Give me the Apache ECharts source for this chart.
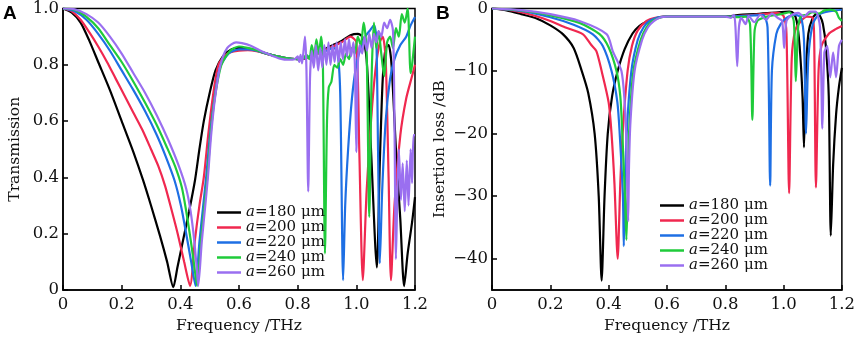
<!DOCTYPE html>
<html>
<head>
<meta charset="utf-8">
<script src="https://cdn.jsdelivr.net/npm/echarts@6/dist/echarts.min.js"></script>
<style>
  html, body { margin: 0; padding: 0; background: #fff; }
  #chart { width: 858px; height: 340px; }
</style>
</head>
<body>
<div id="chart"></div>
<script>
  // 两个子图：A 透射率，B 插入损耗
  const names = ['a=180 μm', 'a=200 μm', 'a=220 μm', 'a=240 μm', 'a=260 μm'];
  const colors = ['#000000', '#f0284f', '#1e6fe4', '#1fcb3a', '#9a6ff0'];
  const freqTicks = ['0', '0.2', '0.4', '0.6', '0.8', '1.0', '1.2'];
  const lossTicks = [0, -10, -20, -30, -40];

  // A: transmission  [频率 THz, 透射率]
  const transA180 = [[0,1],[0.03,0.985],[0.06,0.95],[0.09,0.885],[0.12,0.81],[0.16,0.71],[0.2,0.6],[0.24,0.49],[0.273,0.39],[0.3,0.3],[0.33,0.195],[0.355,0.1],[0.376,0.01],
    [0.39,0.08],[0.41,0.18],[0.43,0.28],[0.45,0.39],[0.465,0.5],[0.48,0.6],[0.5,0.7],[0.52,0.78],[0.545,0.83],[0.575,0.855],[0.6,0.86],[0.63,0.857],[0.66,0.85],[0.7,0.838],[0.75,0.826],[0.8,0.82],
    [0.85,0.83],[0.9,0.86],[0.95,0.885],[0.98,0.905],[1.005,0.91],[1.02,0.9],[1.035,0.82],[1.05,0.5],[1.07,0.08],[1.08,0.45],[1.09,0.75],[1.1,0.86],[1.11,0.87],[1.12,0.8],[1.135,0.5],[1.15,0.25],[1.163,0.014],[1.175,0.13],[1.19,0.24],[1.2,0.33]];
  const transA200 = [[0,1],[0.03,0.99],[0.06,0.96],[0.09,0.915],[0.12,0.865],[0.15,0.81],[0.18,0.75],[0.21,0.69],[0.24,0.63],[0.27,0.57],[0.3,0.5],[0.325,0.44],[0.348,0.37],[0.37,0.285],[0.391,0.2],[0.413,0.1],[0.433,0.015],
    [0.45,0.18],[0.465,0.3],[0.48,0.4],[0.495,0.55],[0.51,0.68],[0.53,0.8],[0.56,0.84],[0.6,0.85],[0.63,0.852],[0.66,0.848],[0.7,0.837],[0.75,0.826],[0.8,0.82],
    [0.85,0.83],[0.9,0.855],[0.95,0.88],[0.98,0.9],[1.0,0.88],[1.01,0.5],[1.022,0.035],[1.035,0.35],[1.05,0.6],[1.065,0.78],[1.08,0.88],[1.09,0.9],[1.1,0.82],[1.11,0.4],[1.118,0.035],[1.13,0.3],[1.15,0.55],[1.17,0.68],[1.19,0.76],[1.2,0.8]];
  const transA220 = [[0,1],[0.04,0.99],[0.08,0.96],[0.12,0.91],[0.16,0.85],[0.2,0.78],[0.24,0.71],[0.28,0.635],[0.32,0.55],[0.35,0.475],[0.38,0.39],[0.402,0.3],[0.42,0.2],[0.437,0.1],[0.452,0.015],
    [0.465,0.17],[0.478,0.3],[0.488,0.4],[0.5,0.54],[0.515,0.67],[0.535,0.79],[0.565,0.84],[0.6,0.855],[0.63,0.855],[0.66,0.85],[0.7,0.838],[0.75,0.826],[0.8,0.82],
    [0.84,0.83],[0.87,0.845],[0.9,0.85],[0.92,0.86],[0.935,0.85],[0.945,0.7],[0.955,0.035],[0.962,0.3],[0.972,0.5],[0.985,0.68],[1.0,0.8],[1.015,0.86],[1.03,0.9],[1.045,0.92],[1.06,0.94],[1.068,0.9],[1.074,0.5],[1.08,0.095],[1.088,0.35],[1.1,0.6],[1.115,0.75],[1.13,0.82],[1.15,0.87],[1.17,0.9],[1.185,0.94],[1.2,0.97]];
  const transA240 = [[0,1],[0.04,0.995],[0.08,0.97],[0.12,0.93],[0.16,0.87],[0.2,0.81],[0.24,0.74],[0.28,0.665],[0.32,0.585],[0.355,0.505],[0.382,0.44],[0.405,0.365],[0.42,0.28],[0.435,0.18],[0.447,0.09],[0.457,0.015],
    [0.47,0.17],[0.482,0.3],[0.492,0.4],[0.503,0.55],[0.517,0.68],[0.54,0.8],[0.57,0.85],[0.6,0.865],[0.63,0.86],[0.66,0.852],[0.7,0.838],[0.75,0.826],[0.8,0.82],
    [0.82,0.825],[0.83,0.835],[0.84,0.82],[0.848,0.87],[0.856,0.83],[0.864,0.89],[0.872,0.84],[0.88,0.9],[0.886,0.8],[0.893,0.13],[0.9,0.6],[0.906,0.72],[0.915,0.74],[0.925,0.8],[0.935,0.79],[0.945,0.82],[0.955,0.8],[0.965,0.84],[0.975,0.82],[0.985,0.86],[0.995,0.84],
    [1.005,0.9],[1.015,0.87],[1.025,0.95],[1.035,0.85],[1.044,0.26],[1.052,0.75],[1.06,0.95],[1.068,0.86],[1.076,0.92],[1.085,0.84],[1.095,0.76],[1.105,0.88],[1.115,0.9],[1.125,0.86],[1.135,0.93],[1.145,0.9],[1.155,0.98],[1.165,0.95],[1.175,1.0],[1.185,0.77],[1.19,0.8],[1.2,0.9]];
  const transA260 = [[0,1],[0.04,0.997],[0.08,0.98],[0.12,0.95],[0.16,0.9],[0.2,0.84],[0.24,0.77],[0.28,0.7],[0.32,0.62],[0.36,0.53],[0.395,0.44],[0.42,0.36],[0.435,0.28],[0.447,0.18],[0.455,0.09],[0.461,0.015],
    [0.473,0.17],[0.485,0.3],[0.494,0.4],[0.505,0.55],[0.518,0.68],[0.537,0.8],[0.56,0.86],[0.59,0.88],[0.61,0.877],[0.64,0.868],[0.67,0.852],[0.7,0.838],[0.74,0.822],[0.77,0.818],[0.79,0.82],
    [0.8,0.83],[0.805,0.81],[0.81,0.835],[0.815,0.805],[0.82,0.85],[0.825,0.9],[0.83,0.78],[0.836,0.35],[0.842,0.75],[0.848,0.85],[0.855,0.79],[0.862,0.87],[0.87,0.78],[0.877,0.86],[0.884,0.79],[0.891,0.87],[0.898,0.8],[0.905,0.88],[0.912,0.8],[0.919,0.87],[0.926,0.81],[0.933,0.88],[0.94,0.81],[0.947,0.88],[0.954,0.82],[0.961,0.89],[0.968,0.83],[0.975,0.89],[0.982,0.83],[0.99,0.88],[0.995,0.8],
    [1.0,0.49],[1.005,0.8],[1.012,0.87],[1.02,0.84],[1.028,0.9],[1.036,0.85],[1.044,0.91],[1.052,0.86],[1.06,0.91],[1.068,0.88],[1.076,0.92],[1.085,0.9],[1.095,0.95],[1.105,0.93],[1.115,0.96],[1.125,0.92],[1.13,0.6],[1.135,0.11],[1.14,0.35],[1.145,0.5],[1.152,0.32],[1.158,0.45],[1.165,0.28],[1.172,0.46],[1.178,0.3],[1.185,0.5],[1.19,0.38],[1.195,0.55],[1.2,0.55]];

  // B: insertion loss  [频率 THz, dB]
  const lossB180 = [[0,0],[0.05,-0.3],[0.1,-0.9],[0.153,-1.6],[0.2,-2.7],[0.243,-4.1],[0.28,-6.3],[0.308,-10],[0.33,-13.5],[0.352,-20],[0.366,-30],[0.376,-43.5],
    [0.386,-30],[0.397,-20],[0.412,-14],[0.431,-10],[0.455,-6.5],[0.482,-4],[0.505,-2.8],[0.53,-2.1],[0.575,-1.4],[0.6,-1.3],[0.7,-1.3],[0.8,-1.3],
    [0.85,-1.0],[0.9,-0.9],[0.98,-0.6],[1.02,-0.5],[1.035,-0.8],[1.045,-2],[1.055,-6],[1.065,-14],[1.07,-22.2],[1.075,-12],[1.085,-4],[1.1,-1.5],[1.115,-0.8],[1.125,-1.2],[1.135,-2.5],[1.145,-6],[1.155,-14],[1.162,-36.3],[1.17,-25],[1.18,-17],[1.19,-12.5],[1.2,-9.5]];
  const lossB200 = [[0,0],[0.05,-0.2],[0.1,-0.6],[0.15,-1.2],[0.2,-2],[0.25,-3],[0.311,-4.1],[0.34,-5.8],[0.358,-6.8],[0.376,-10],[0.4,-15],[0.41,-20],[0.42,-28],[0.431,-40],
    [0.44,-28],[0.448,-20],[0.465,-10],[0.48,-6],[0.5,-3.5],[0.53,-2],[0.56,-1.5],[0.6,-1.3],[0.7,-1.3],[0.8,-1.3],
    [0.9,-1.0],[0.98,-0.7],[1.0,-1.2],[1.01,-4],[1.019,-29.5],[1.028,-8],[1.04,-3.5],[1.06,-2],[1.08,-1.3],[1.1,-1.5],[1.105,-5],[1.111,-28.6],[1.12,-10],[1.13,-6],[1.156,-4],[1.175,-3.4],[1.2,-2.8]];
  const lossB220 = [[0,0],[0.1,-0.4],[0.2,-1.4],[0.28,-2.6],[0.345,-4.1],[0.38,-6],[0.41,-10],[0.43,-15],[0.438,-20],[0.449,-30],[0.452,-38],
    [0.456,-30],[0.462,-20],[0.478,-10],[0.5,-5],[0.52,-3],[0.54,-2],[0.57,-1.4],[0.6,-1.3],[0.7,-1.3],[0.8,-1.3],
    [0.9,-1.1],[0.93,-1.0],[0.945,-3],[0.954,-28.3],[0.96,-10],[0.975,-4.1],[0.99,-2.5],[1.01,-1.5],[1.04,-1.0],[1.06,-1.5],[1.07,-5],[1.077,-20],[1.085,-8],[1.1,-2.5],[1.12,-1],[1.15,-0.5],[1.18,-0.3],[1.2,-0.2]];
  const lossB240 = [[0,0],[0.1,-0.3],[0.2,-1.1],[0.3,-2.3],[0.369,-4.1],[0.4,-6.2],[0.427,-10],[0.44,-14],[0.447,-20],[0.456,-30],[0.461,-37],
    [0.465,-30],[0.47,-20],[0.485,-10],[0.51,-5],[0.53,-3],[0.55,-2],[0.58,-1.4],[0.6,-1.3],[0.7,-1.3],[0.8,-1.3],
    [0.85,-1.4],[0.87,-1.3],[0.885,-2.5],[0.893,-17.8],[0.9,-4],[0.91,-2],[0.93,-1.5],[0.95,-1.2],[0.98,-1.0],[1.0,-0.8],[1.02,-0.6],[1.035,-2],[1.042,-11.6],[1.05,-3],[1.06,-1.2],[1.08,-1.0],[1.1,-0.6],[1.12,-0.8],[1.14,-0.3],[1.16,-0.2],[1.18,-0.5],[1.19,-1.5],[1.2,-2]];
  const lossB260 = [[0,0],[0.1,-0.25],[0.2,-0.9],[0.3,-2],[0.393,-4.1],[0.414,-6.8],[0.444,-10],[0.455,-15],[0.46,-20],[0.465,-30],[0.467,-34],
    [0.47,-25],[0.475,-18],[0.489,-10],[0.515,-5],[0.535,-3],[0.555,-2],[0.58,-1.4],[0.6,-1.3],[0.7,-1.3],[0.8,-1.3],
    [0.82,-1.5],[0.83,-1.0],[0.835,-3],[0.841,-9.2],[0.847,-3],[0.855,-1.5],[0.87,-2.5],[0.88,-1.2],[0.9,-2.2],[0.92,-1.0],[0.94,-1.8],[0.96,-0.8],[0.98,-1.5],[0.995,-2],[1.002,-6.3],[1.01,-2],[1.03,-1],[1.05,-0.7],[1.07,-1.3],[1.09,-0.5],[1.11,-0.5],[1.125,-3],[1.133,-19.2],[1.14,-7],[1.15,-6],[1.16,-11],[1.17,-7],[1.18,-11],[1.19,-6],[1.2,-5]];

  const transData = [transA180, transA200, transA220, transA240, transA260];
  const lossData = [lossB180, lossB200, lossB220, lossB240, lossB260];

  const serif = 'DejaVu Serif';
  const labelStyle = { fontFamily: serif, fontSize: 16.5, color: '#111' };

  function xAxis(gridIndex) {
    return {
      type: 'value', gridIndex: gridIndex, min: 0, max: 1.2, interval: 0.2,
      name: 'Frequency /THz', nameLocation: 'middle', nameGap: 25,
      nameTextStyle: { fontFamily: serif, fontSize: 15.5, color: '#111' },
      axisLine: { onZero: false, lineStyle: { color: '#000', width: 1.5 } },
      axisTick: { inside: true, length: 5, lineStyle: { color: '#000', width: 1.5 } },
      axisLabel: Object.assign({ margin: 6, formatter: v => freqTicks[Math.round(v / 0.2)] }, labelStyle),
      splitLine: { show: false }
    };
  }

  function legend(left, top, rowH) {
    return {
      orient: 'vertical', left: left, top: top, itemWidth: 24, itemHeight: 2.5, itemGap: 0,
      icon: 'rect', selectedMode: false, data: names,
      formatter: n => '{i|a}' + n.slice(1),
      textStyle: {
        fontFamily: serif, fontSize: 15, color: '#111', lineHeight: rowH,
        rich: { i: { fontFamily: serif, fontSize: 15, fontStyle: 'italic', color: '#111', lineHeight: rowH } }
      }
    };
  }

  let myChart = echarts.init(document.getElementById('chart'));
  let series = [];
  names.forEach((n, i) => {
    series.push({ name: n, type: 'line', xAxisIndex: 0, yAxisIndex: 0, data: transData[i], symbol: 'none', smooth: 0.25,
      lineStyle: { color: colors[i], width: 2.2 }, itemStyle: { color: colors[i] } });
  });
  names.forEach((n, i) => {
    series.push({ name: n, type: 'line', xAxisIndex: 1, yAxisIndex: 1, data: lossData[i], symbol: 'none', smooth: 0.25,
      lineStyle: { color: colors[i], width: 2.2 }, itemStyle: { color: colors[i] } });
  });

  let options = {
    backgroundColor: '#fff',
    animation: false,
    grid: [
      { left: 63, top: 7, width: 352, height: 283, show: true, borderColor: '#000', borderWidth: 1.5, backgroundColor: 'transparent' },
      { left: 492, top: 7, width: 351, height: 283, show: true, borderColor: '#000', borderWidth: 1.5, backgroundColor: 'transparent' }
    ],
    xAxis: [xAxis(0), xAxis(1)],
    yAxis: [
      {
        type: 'value', gridIndex: 0, min: 0, max: 1, interval: 0.2,
        name: 'Transmission', nameLocation: 'middle', nameGap: 40,
        nameTextStyle: { fontFamily: serif, fontSize: 15.5, color: '#111' },
        axisLine: { onZero: false, lineStyle: { color: '#000', width: 1.5 } },
        axisTick: { inside: true, length: 5, lineStyle: { color: '#000', width: 1.5 } },
        axisLabel: Object.assign({ margin: 4, formatter: v => v === 0 ? '0' : v.toFixed(1) }, labelStyle),
        splitLine: { show: false }
      },
      {
        type: 'value', gridIndex: 1, min: -45, max: 0,
        name: 'Insertion loss /dB', nameLocation: 'middle', nameGap: 44,
        nameTextStyle: { fontFamily: serif, fontSize: 15.5, color: '#111' },
        axisLine: { onZero: false, lineStyle: { color: '#000', width: 1.5 } },
        axisTick: { inside: true, length: 5, customValues: lossTicks, lineStyle: { color: '#000', width: 1.5 } },
        axisLabel: Object.assign({ margin: 4, customValues: lossTicks, formatter: v => v === 0 ? '0' : '\u2212' + Math.abs(v) }, labelStyle),
        splitLine: { show: false }
      }
    ],
    legend: [legend(212, 200, 14.3), legend(655, 193, 13.8)],
    graphic: [
      { type: 'text', left: 3, top: 4, style: { text: 'A', fontFamily: 'Liberation Sans', fontWeight: 'bold', fontSize: 19, fill: '#000' } },
      { type: 'text', left: 436, top: 4, style: { text: 'B', fontFamily: 'Liberation Sans', fontWeight: 'bold', fontSize: 19, fill: '#000' } }
    ],
    series: series
  };

  myChart.setOption(options);
</script>
</body>
</html>
